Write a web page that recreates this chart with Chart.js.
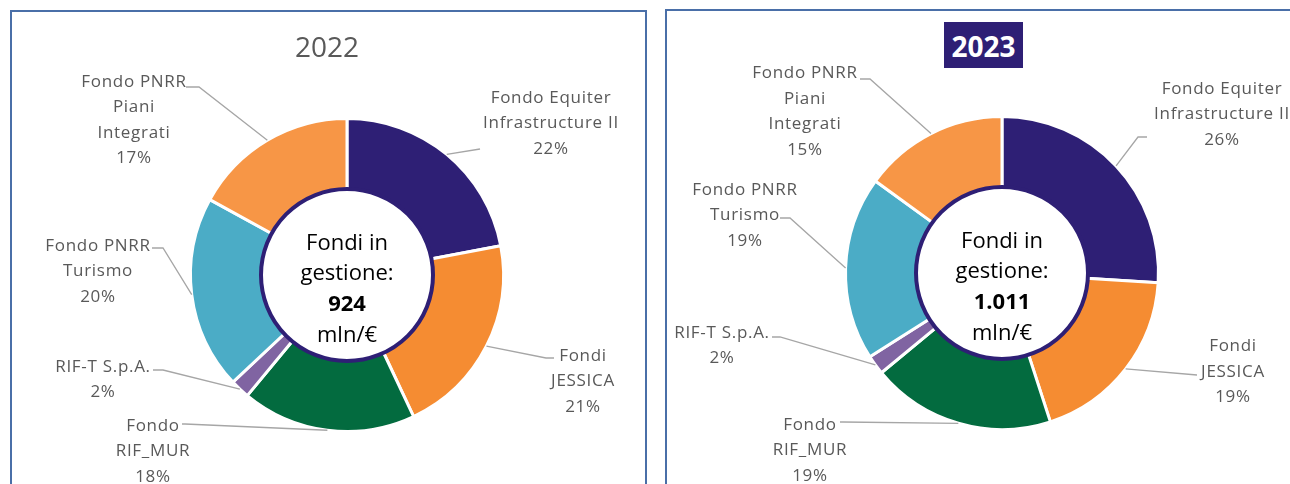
<!DOCTYPE html>
<html><head><meta charset="utf-8">
<script src="https://cdn.jsdelivr.net/npm/chart.js@4.4.1/dist/chart.umd.min.js"></script>
<style>
html,body{margin:0;padding:0;background:#fff;width:1290px;height:484px;overflow:hidden;position:relative;font-family:'Open Sans',sans-serif}
.panel{position:absolute;border:2px solid #4A6FA8;border-bottom:none;box-sizing:border-box}
#p1{left:10px;top:10px;width:637px;height:490px}
#p2{left:665px;top:9px;width:700px;height:490px}
canvas{position:absolute;top:0}
#c1{left:0}
#c2{left:656px}
.t1{position:absolute;left:247px;top:32px;width:160px;text-align:center;font-size:28px;line-height:28px;color:#595959}
.t2{position:absolute;left:944px;top:22px;width:79px;height:46px;background:#2E1F75;color:#fff;font-weight:bold;text-align:center;font-size:28px;line-height:48px}
</style></head>
<body>
<div class="panel" id="p1"></div>
<div class="panel" id="p2"></div>
<canvas id="c1" width="656" height="484"></canvas>
<canvas id="c2" width="634" height="484"></canvas>
<div class="t1">2022</div>
<div class="t2">2023</div>
<script>
// ---- data ----
const categories = ['Fondo Equiter Infrastructure II','Fondi JESSICA','Fondo RIF_MUR','RIF-T S.p.A.','Fondo PNRR Turismo','Fondo PNRR Piani Integrati'];
const labelLines = [['Fondo Equiter','Infrastructure II'],['Fondi','JESSICA'],['Fondo','RIF_MUR'],['RIF-T S.p.A.'],['Fondo PNRR','Turismo'],['Fondo PNRR','Piani','Integrati']];
const values2022 = [22,21,18,2,20,17];
const values2023 = [26,19,19,2,19,15];
const totals = ['924','1.011'];
const centerLines = ['Fondi in','gestione:','', 'mln/€'];

// ---- styles / layout ----
const colors = ['#2E1F75','#F58C32','#036B3F','#8064A2','#4BACC6','#F79646'];
// label layout relative to donut centre: t = text block centre, e = leader elbow, s = horizontal stub
const layout2022 = [
  {t:[204,-153], e:[133,-126], s:0},
  {t:[236,105], e:[199,83], s:8},
  {t:[-194,175], e:[-162,149], s:-3},
  {t:[-244,103.5], e:[-184,95], s:-10},
  {t:[-249,-5], e:[-184,-27], s:-11},
  {t:[-213,-156], e:[-148,-188], s:-13}
];
const layout2023 = [
  {t:[220,-160], e:[136,-136], s:9},
  {t:[231,97.5], e:[195,102], s:0},
  {t:[-192,176], e:[-159,149], s:-3},
  {t:[-280,71.5], e:[-222,64], s:-8},
  {t:[-257,-59], e:[-212,-55], s:-10},
  {t:[-197,-162.5], e:[-132,-194], s:-10}
];

const labelPlugin = {
  id:'donutLabels',
  afterDatasetsDraw(chart, args, opts){
    const ctx = chart.ctx;
    const meta = chart.getDatasetMeta(0);
    const vals = chart.data.datasets[0].data;
    const first = meta.data[0];
    const cx = first.x, cy = first.y;
    // inner circle with border
    ctx.save();
    ctx.beginPath();
    ctx.arc(cx, cy, first.innerRadius + 2, 0, Math.PI*2);
    ctx.fillStyle = '#fff';
    ctx.fill();
    ctx.lineWidth = 4;
    ctx.strokeStyle = '#2E1F75';
    ctx.stroke();
    // centre text
    ctx.fillStyle = '#000';
    ctx.textAlign = 'center';
    ctx.textBaseline = 'alphabetic';
    centerLines.forEach((ln, i) => {
      const txt = i === 2 ? opts.total : ln;
      ctx.font = (i === 2 ? 'bold ' : '') + '22px "Open Sans"';
      ctx.fillText(txt, cx, cy - 25.5 + i*30.7);
    });
    // leaders + labels
    meta.data.forEach((arc, i) => {
      const L = opts.layout[i];
      const mid = (arc.startAngle + arc.endAngle)/2;
      const px = cx + Math.cos(mid)*arc.outerRadius;
      const py = cy + Math.sin(mid)*arc.outerRadius;
      const ex = cx + L.e[0], ey = cy + L.e[1];
      ctx.beginPath();
      ctx.moveTo(px, py);
      ctx.lineTo(ex, ey);
      ctx.lineTo(ex + L.s, ey);
      ctx.strokeStyle = '#A6A6A6';
      ctx.lineWidth = 1.3;
      ctx.stroke();
      const lines = labelLines[i].concat([vals[i] + '%']);
      ctx.font = '17px "Open Sans"';
      ctx.letterSpacing = '0.7px';
      ctx.fillStyle = '#595959';
      const lh = 25.5;
      lines.forEach((t, k) => {
        const y = cy + L.t[1] + (k - (lines.length-1)/2)*lh + 6;
        ctx.fillText(t, cx + L.t[0], y);
      });
      ctx.letterSpacing = '0px';
    });
    ctx.restore();
  }
};

function makeChart(id, values, total, layout, pad){
  return new Chart(document.getElementById(id), {
    type:'doughnut',
    data:{labels:categories, datasets:[{data:values, backgroundColor:colors, borderColor:'#fff', borderWidth:3}]},
    options:{
      responsive:false, animation:false, devicePixelRatio:1,
      cutout:84,
      layout:{padding:pad},
      plugins:{legend:{display:false}, tooltip:{enabled:false}, donutLabels:{total:total, layout:layout}}
    },
    plugins:[labelPlugin]
  });
}
makeChart('c1', values2022, totals[0], layout2022, {left:189, top:117, right:151, bottom:51});
makeChart('c2', values2023, totals[1], layout2023, {left:188, top:115, right:130, bottom:53});
</script>
</body></html>
